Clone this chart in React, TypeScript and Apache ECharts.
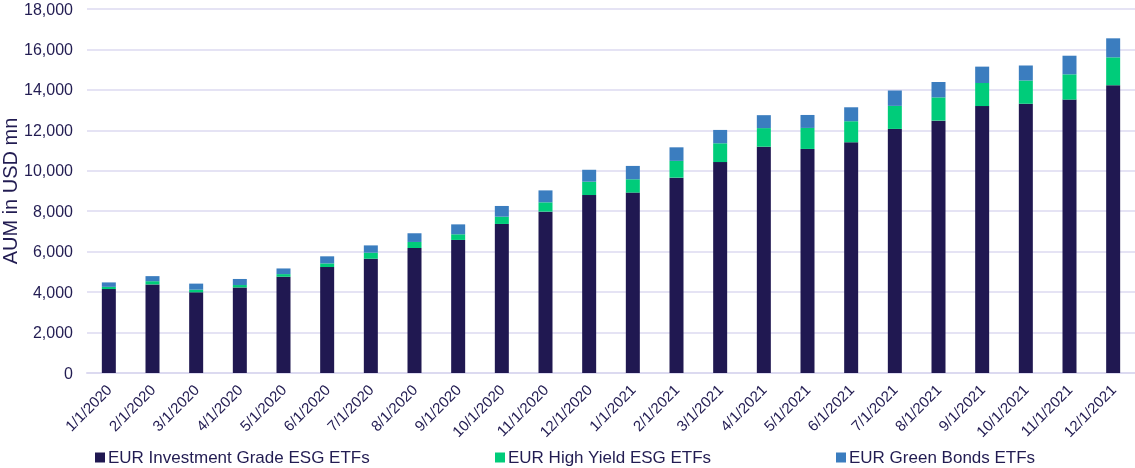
import React, { useEffect, useRef } from "react";
import * as echarts from "echarts";

const categories = [
  "1/1/2020", "2/1/2020", "3/1/2020", "4/1/2020", "5/1/2020", "6/1/2020",
  "7/1/2020", "8/1/2020", "9/1/2020", "10/1/2020", "11/1/2020", "12/1/2020",
  "1/1/2021", "2/1/2021", "3/1/2021", "4/1/2021", "5/1/2021", "6/1/2021",
  "7/1/2021", "8/1/2021", "9/1/2021", "10/1/2021", "11/1/2021", "12/1/2021",
];

const investmentGrade = [
  4150, 4380, 3990, 4230, 4760, 5240, 5650, 6180, 6580, 7370, 7980, 8800,
  8920, 9660, 10430, 11190, 11080, 11410, 12070, 12480, 13200, 13320, 13520, 14230,
];

const highYield = [
  110, 160, 130, 120, 130, 180, 300, 300, 280, 360, 460, 660,
  660, 830, 930, 920, 1040, 1040, 1140, 1150, 1140, 1140, 1250, 1380,
];

const greenBonds = [
  220, 250, 300, 300, 280, 350, 360, 430, 490, 530, 590, 590,
  660, 670, 660, 640, 640, 690, 760, 760, 810, 740, 920, 940,
];

const seriesNames = [
  "EUR Investment Grade ESG ETFs",
  "EUR High Yield ESG ETFs",
  "EUR Green Bonds ETFs",
];

const colors = ["#201851", "#00CC7A", "#3B7DBF"];
const textColor = "#221C52";
const gridColor = "#DCDAF0";
const fontFamily = "'Liberation Sans', Arial, sans-serif";

export default function App() {
  const ref = useRef<HTMLDivElement>(null);

  useEffect(() => {
    if (!ref.current) return;
    const chart = echarts.init(ref.current, undefined, { renderer: "svg" });
    const values = [investmentGrade, highYield, greenBonds];
    const legendLefts = [95, 495, 836];
    chart.setOption({
      animation: false,
      textStyle: { fontFamily, color: textColor },
      grid: {
        left: 87,
        right: 0,
        top: 9,
        bottom: 95,
        containLabel: false,
        outerBoundsMode: "none",
      },
      legend: seriesNames.map((name, i) => ({
        data: [name],
        left: legendLefts[i],
        top: 449,
        icon: "rect",
        itemWidth: 10,
        itemHeight: 10,
        itemGap: 0,
        padding: 0,
        textStyle: { fontSize: 17, color: textColor, fontFamily, padding: [0, 0, 0, -2] },
        selectedMode: false,
      })),
      xAxis: {
        type: "category",
        data: categories,
        axisLine: { show: true, lineStyle: { color: gridColor, width: 2 } },
        axisTick: { show: false },
        axisLabel: {
          interval: 0,
          rotate: 45,
          margin: 14,
          fontSize: 15,
          color: textColor,
          fontFamily,
        },
      },
      yAxis: {
        type: "value",
        min: 0,
        max: 18000,
        interval: 2000,
        name: "AUM in USD mn",
        nameLocation: "middle",
        nameGap: 67,
        nameMoveOverlap: false,
        nameTextStyle: { fontSize: 20, color: textColor, fontFamily },
        axisLine: { show: false },
        axisTick: { show: false },
        splitLine: { lineStyle: { color: gridColor, width: 1.5 } },
        axisLabel: {
          margin: 14,
          fontSize: 16,
          color: textColor,
          fontFamily,
          formatter: (v: number) => v.toLocaleString("en-US"),
        },
      },
      series: seriesNames.map((name, i) => ({
        name,
        type: "bar",
        stack: "total",
        barWidth: 14,
        data: values[i],
        itemStyle: { color: colors[i] },
      })),
    });
    return () => chart.dispose();
  }, []);

  return (
    <div
      ref={ref}
      style={{ position: "fixed", left: 0, top: 0, width: 1135, height: 468 }}
    />
  );
}
